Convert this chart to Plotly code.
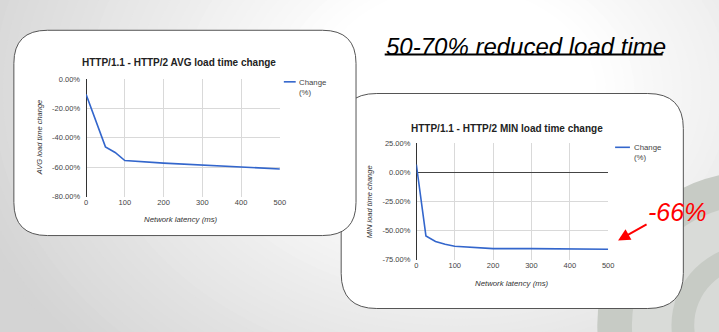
import plotly.graph_objects as go

W, H = 719, 332

# ---- data ----
avg_latency = [0, 50, 75, 100, 200, 300, 400, 500]
avg_change = [-10.5, -46.2, -50.0, -55.5, -57.2, -58.7, -60.0, -61.2]

min_latency = [0, 25, 50, 75, 100, 200, 300, 400, 500]
min_change = [6.7, -54.5, -59.2, -61.7, -63.4, -65.4, -65.4, -65.6, -65.9]

x_ticks = [0, 100, 200, 300, 400, 500]
avg_y_ticks = [0, -20, -40, -60, -80]
avg_y_labels = ["0.00%", "-20.00%", "-40.00%", "-60.00%", "-80.00%"]
min_y_ticks = [25, 0, -25, -50, -75]
min_y_labels = ["25.00%", "0.00%", "-25.00%", "-50.00%", "-75.00%"]

series_name = "Change<br>(%)"
title_avg = "HTTP/1.1 - HTTP/2 AVG load time change"
title_min = "HTTP/1.1 - HTTP/2 MIN load time change"
slide_title = "50-70% reduced load time"
callout = "-66%"

FONT = "Liberation Sans, Arial, sans-serif"
LINE_COLOR = "#3366cc"


def px(x):
    return x / W


def py(y):
    return 1 - y / H


def rounded_rect(x0, y0, x1, y1, r):
    X0, X1 = px(x0), px(x1)
    Y0, Y1 = py(y0), py(y1)
    rx, ry = r / W, r / H
    return (f"M {X0+rx},{Y0} L {X1-rx},{Y0} Q {X1},{Y0} {X1},{Y0-ry} "
            f"L {X1},{Y1+ry} Q {X1},{Y1} {X1-rx},{Y1} "
            f"L {X0+rx},{Y1} Q {X0},{Y1} {X0},{Y1+ry} "
            f"L {X0},{Y0-ry} Q {X0},{Y0} {X0+rx},{Y0} Z")


shapes = []

# background radial gradient (decoration)
cx, cy, rx0, ry0 = 460, 90, 470, 360
N = 40
for k in range(N):
    f = 1.1 - k * (0.8 / (N - 1))
    t = min(max((f - 0.3) / 0.8, 0), 1)
    g = int(round(255 - (255 - 212) * t))
    col = f"rgb({g},{g},{g})"
    shapes.append(dict(type="circle", xref="paper", yref="paper", layer="below",
                       x0=px(cx - rx0 * f), x1=px(cx + rx0 * f),
                       y0=py(cy + ry0 * f), y1=py(cy - ry0 * f),
                       fillcolor=col, line=dict(width=0)))

# logo rings bottom-right (decoration)
lcx, lcy = 760, 330
for r, col in [(158, "#c7cbc5"), (123, "#d9dbd8"), (83, "#c7cbc5"), (60, "#d8dad7")]:
    shapes.append(dict(type="circle", xref="paper", yref="paper", layer="below",
                       x0=px(lcx - r), x1=px(lcx + r), y0=py(lcy + r), y1=py(lcy - r),
                       fillcolor=col, line=dict(width=0)))

# cards: MIN card first, AVG card on top
shapes.append(dict(type="path", xref="paper", yref="paper", layer="below",
                   path=rounded_rect(343, 92, 689, 313, 36),
                   fillcolor="white", line=dict(color="#555555", width=1)))
shapes.append(dict(type="path", xref="paper", yref="paper", layer="below",
                   path=rounded_rect(12, 27, 358, 238, 34),
                   fillcolor="white", line=dict(color="#555555", width=1)))

# legend samples
shapes.append(dict(type="line", xref="paper", yref="paper",
                   x0=px(285), x1=px(297), y0=py(80), y1=py(80),
                   line=dict(color=LINE_COLOR, width=1.6)))
shapes.append(dict(type="line", xref="paper", yref="paper",
                   x0=px(620), x1=px(635), y0=py(147.3), y1=py(147.3),
                   line=dict(color=LINE_COLOR, width=1.6)))

# slide title underline
shapes.append(dict(type="line", xref="paper", yref="paper",
                   x0=px(387), x1=px(668), y0=py(52), y1=py(52),
                   line=dict(color="black", width=2)))

fig = go.Figure()
fig.add_trace(go.Scatter(x=avg_latency, y=avg_change, mode="lines", name=series_name,
                         line=dict(color=LINE_COLOR, width=1.6), xaxis="x", yaxis="y",
                         showlegend=False, hoverinfo="skip"))
fig.add_trace(go.Scatter(x=min_latency, y=min_change, mode="lines", name=series_name,
                         line=dict(color=LINE_COLOR, width=1.6), xaxis="x2", yaxis="y2",
                         showlegend=False, hoverinfo="skip"))

tickfont = dict(family=FONT, size=7.5, color="#444444")
grid = "#d9d9d9"

xcommon = dict(range=[0, 500], tickvals=x_ticks, showgrid=True, gridcolor=grid,
               zeroline=True, zerolinecolor="#333333", zerolinewidth=1,
               showline=False, ticks="", tickfont=tickfont, fixedrange=True)

annotations = []


def ann(text, x, y, size=8, color="#222222", italic=False, bold=False, angle=0,
        xanchor="center", yanchor="middle", align="center"):
    if italic:
        text = f"<i>{text}</i>"
    if bold:
        text = f"<b>{text}</b>"
    annotations.append(dict(text=text, x=px(x), y=py(y), xref="paper", yref="paper",
                            showarrow=False, textangle=angle, xanchor=xanchor,
                            yanchor=yanchor, align=align,
                            font=dict(family=FONT, size=size, color=color)))


ann(title_avg, 179, 60, size=10, bold=True)
ann(title_min, 511, 128, size=10, bold=True)
ann("Network latency (ms)", 181, 222, size=7.8, italic=True, color="#333333")
ann("Network latency (ms)", 516, 287, size=7.8, italic=True, color="#333333")
ann("AVG load time change", 38, 137.5, size=7.5, italic=True, angle=-90, color="#333333")
ann("MIN load time change", 372, 203, size=7.5, italic=True, angle=-90, color="#333333")
ann(series_name, 298, 73.5, size=7.8, color="#444444", xanchor="left", yanchor="top", align="left")
ann(series_name, 637.5, 140.8, size=7.8, color="#444444", xanchor="left", yanchor="top", align="left")
ann(slide_title, 386, 43.5, size=24, color="black", italic=True, xanchor="left")
ann(callout, 683, 214, size=25, color="#ff0000", italic=True)

annotations.append(dict(text="", x=px(623), y=py(243), xref="paper", yref="paper",
                        showarrow=True, ax=30, ay=-17, arrowhead=2, arrowsize=1.2,
                        arrowwidth=2, arrowcolor="#ff0000"))

fig.update_layout(
    width=W, height=H, autosize=False,
    margin=dict(l=0, r=0, t=0, b=0),
    paper_bgcolor="rgb(212,212,212)",
    plot_bgcolor="rgba(0,0,0,0)",
    font=dict(family=FONT),
    showlegend=False,
    shapes=shapes,
    annotations=annotations,
    xaxis=dict(domain=[px(85), px(281)], anchor="y", **xcommon),
    yaxis=dict(domain=[py(198), py(77)], anchor="x", range=[-80, 0],
               tickvals=avg_y_ticks, ticktext=avg_y_labels, showgrid=True,
               gridcolor=grid, zeroline=False, showline=False, ticks="",
               ticklabelstandoff=5, tickfont=tickfont, fixedrange=True),
    xaxis2=dict(domain=[px(419), px(613)], anchor="y2", **xcommon),
    yaxis2=dict(domain=[py(263), py(143)], anchor="x2", range=[-75, 25],
                tickvals=min_y_ticks, ticktext=min_y_labels, showgrid=True,
                gridcolor=grid, zeroline=True, zerolinecolor="#444444", zerolinewidth=1,
                showline=False, ticks="", ticklabelstandoff=5, tickfont=tickfont,
                fixedrange=True),
)

fig.write_html("out.html")
